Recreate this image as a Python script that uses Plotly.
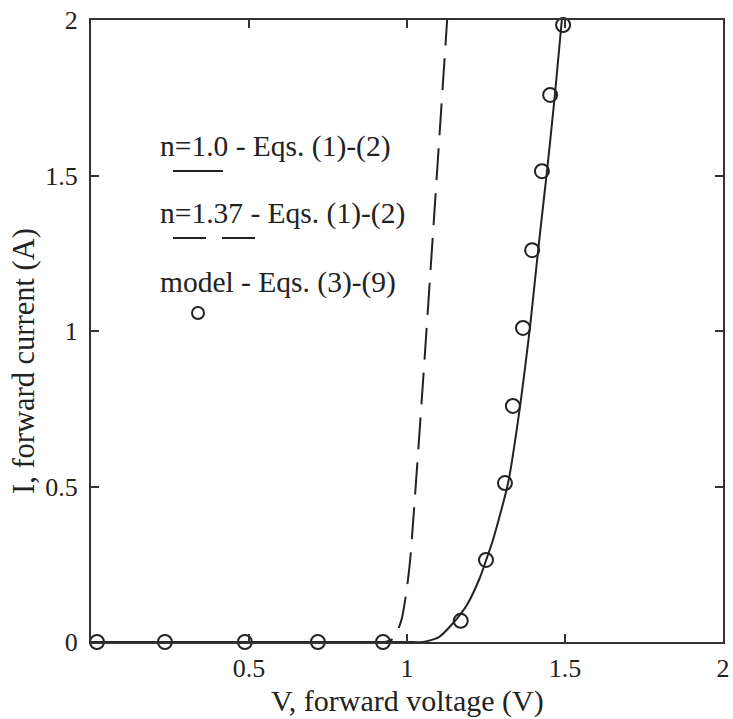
import plotly.graph_objects as go

# Model points (circles)
model_v = [0.019, 0.234, 0.487, 0.718, 0.924, 1.17, 1.25, 1.310, 1.335, 1.367, 1.396, 1.427, 1.453, 1.494]
model_i = [0.0, 0.0, 0.0, 0.0, 0.0, 0.068, 0.264, 0.511, 0.759, 1.01, 1.26, 1.514, 1.759, 1.984]

# n = 1.0 curve (solid)
n10_v = [0.0, 1.0, 1.05, 1.10, 1.146, 1.19, 1.23, 1.25, 1.272, 1.32, 1.358, 1.389, 1.415, 1.443, 1.468, 1.49]
n10_i = [0.0, 0.0, 0.0, 0.015, 0.061, 0.12, 0.205, 0.262, 0.328, 0.511, 0.759, 1.01, 1.26, 1.514, 1.759, 2.0]

# n = 1.37 curve (dashed)
n137_v = [0.0, 0.93, 0.955, 0.97, 0.984, 0.998, 1.01, 1.051, 1.127]
n137_i = [0.0, 0.0, 0.01, 0.035, 0.077, 0.16, 0.264, 0.842, 2.0]

x_ticks = [0.5, 1, 1.5, 2]
x_tick_text = ["0.5", "1", "1.5", "2"]
y_ticks = [0, 0.5, 1, 1.5, 2]
y_tick_text = ["0", "0.5", "1", "1.5", "2"]

legend_labels = ["n=1.0 - Eqs. (1)-(2)", "n=1.37 - Eqs. (1)-(2)", "model - Eqs. (3)-(9)"]

INK = "#222222"
FONT = "Liberation Serif"

fig = go.Figure()
fig.add_trace(go.Scatter(x=n10_v, y=n10_i, mode="lines",
                         line=dict(color=INK, width=2, shape="spline", smoothing=0.6),
                         showlegend=False))
fig.add_trace(go.Scatter(x=n137_v, y=n137_i, mode="lines",
                         line=dict(color=INK, width=2, dash="32px,13px", shape="spline", smoothing=0.6),
                         showlegend=False))
fig.add_trace(go.Scatter(x=model_v, y=model_i, mode="markers",
                         marker=dict(symbol="circle-open", size=14, color=INK, line=dict(width=2, color=INK)),
                         cliponaxis=False, showlegend=False))

# body margin is removed by post_script, so figure pixels == page pixels
W, H = 733, 719
# plot area in page pixels: x 91..723, y 20..642
L, R, T, B = 91, W - 723, 20, H - 642
pw, ph = W - L - R, H - T - B

def px(x):
    return (x - L) / pw

def py(y):
    return (H - B - y) / ph

ann = []
for lab, ypix in zip(legend_labels, [147, 213, 282]):
    ann.append(dict(x=px(158), y=py(ypix), xref="paper", yref="paper", text=lab,
                    showarrow=False, xanchor="left", yanchor="middle",
                    font=dict(family=FONT, size=29.5, color=INK)))
ann.append(dict(x=0.5, y=py(701), xref="paper", yref="paper", text="V, forward voltage (V)",
                showarrow=False, xanchor="center", yanchor="middle",
                font=dict(family=FONT, size=30, color=INK)))
ann.append(dict(x=px(24), y=py(361), xref="paper", yref="paper", text="I, forward current (A)",
                showarrow=False, xanchor="center", yanchor="middle", textangle=-90,
                font=dict(family=FONT, size=30.5, color=INK)))

shapes = [
    dict(type="line", xref="paper", yref="paper", x0=px(173), x1=px(223), y0=py(171), y1=py(171),
         line=dict(color=INK, width=2)),
    dict(type="line", xref="paper", yref="paper", x0=px(173), x1=px(206), y0=py(238), y1=py(238),
         line=dict(color=INK, width=2)),
    dict(type="line", xref="paper", yref="paper", x0=px(222), x1=px(255), y0=py(238), y1=py(238),
         line=dict(color=INK, width=2)),
    dict(type="circle", xref="paper", yref="paper", x0=px(192), x1=px(204), y0=py(319), y1=py(307),
         line=dict(color=INK, width=2)),
]

axis_common = dict(showgrid=False, zeroline=False, showline=True, linecolor="#333333", linewidth=2,
                   mirror="all", ticks="inside", ticklen=8, tickwidth=1.5, tickcolor="#333333",
                   ticklabeloverflow="allow", automargin=False,
                   tickfont=dict(family=FONT, size=26, color=INK))

fig.update_layout(
    width=W, height=H,
    margin=dict(l=L, r=R, t=T, b=B, pad=0, autoexpand=False),
    plot_bgcolor="white", paper_bgcolor="white",
    xaxis=dict(range=[0, 2], tickvals=x_ticks, ticktext=x_tick_text, ticklabelstandoff=2, **axis_common),
    yaxis=dict(range=[0, 2], tickvals=y_ticks, ticktext=y_tick_text, ticklabelstandoff=6, **axis_common),
    annotations=ann, shapes=shapes, showlegend=False,
)

fig.write_html("out.html", config={"displayModeBar": False},
               post_script="document.body.style.margin='0';document.body.style.overflow='hidden';")
